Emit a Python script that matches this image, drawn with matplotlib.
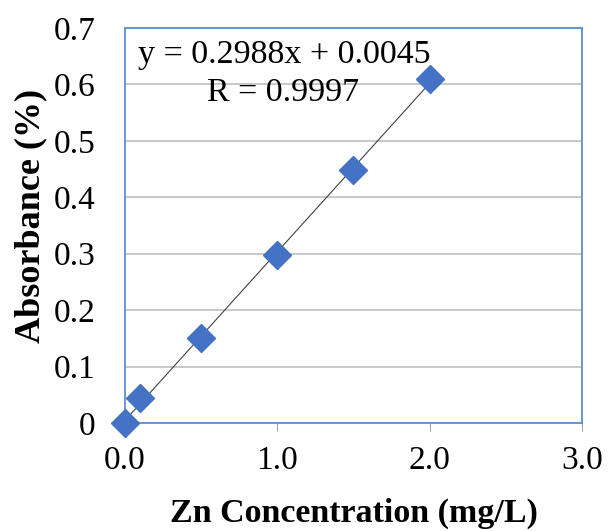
import matplotlib.pyplot as plt
import numpy as np

plt.rcParams["font.family"] = ["Liberation Serif", "DejaVu Serif"]

# calibration data
concentration = [0.0, 0.1, 0.5, 1.0, 1.5, 2.0]
absorbance = [0.0, 0.045, 0.15, 0.297, 0.449, 0.61]
slope = 0.2988
intercept = 0.0045
equation_text = "y = 0.2988x + 0.0045"
r_text = "R = 0.9997"

x_ticks = [0.0, 1.0, 2.0, 3.0]
y_ticks = [0, 0.1, 0.2, 0.3, 0.4, 0.5, 0.6, 0.7]

figure = plt.figure(figsize=(6.08, 5.31), dpi=100)
axis = figure.add_axes([0.2056, 0.2034, 0.7516, 0.7439])

fit_x = np.array([min(concentration), max(concentration)])
axis.plot(fit_x, slope * fit_x + intercept, color="#404040", linewidth=0.8, zorder=3)
axis.plot(
    concentration,
    absorbance,
    linestyle="none",
    marker="D",
    markersize=14,
    color="#4472C4",
    zorder=4,
    clip_on=False,
)

axis.set_xlim(0, 3)
axis.set_ylim(0, 0.7)
axis.set_xticks(x_ticks)
axis.set_xticklabels([f"{v:.1f}" for v in x_ticks])
axis.set_yticks(y_ticks)
axis.set_yticklabels(["0"] + [f"{v:.1f}" for v in y_ticks[1:]])
axis.yaxis.grid(True, color="#BFBFBF", linewidth=1.2)
axis.set_axisbelow(True)

for spine in axis.spines.values():
    spine.set_color("#5B8FD0")
    spine.set_linewidth(1.3)

axis.tick_params(axis="x", direction="out", length=6, color="#A6A6A6", labelsize=24, pad=10)
axis.tick_params(axis="y", length=0, labelsize=24, pad=21)

axis.set_xlabel("Zn Concentration (mg/L)", fontsize=24.5, fontweight="bold", labelpad=16)
axis.set_ylabel("Absorbance (%)", fontsize=26, fontweight="bold", labelpad=5, y=0.524)

axis.text(0.349, 0.911, equation_text, transform=axis.transAxes, fontsize=24.5,
          ha="center", va="baseline")
axis.text(0.345, 0.815, r_text, transform=axis.transAxes, fontsize=24.5,
          ha="center", va="baseline")

figure.savefig("out.png", dpi=100)
